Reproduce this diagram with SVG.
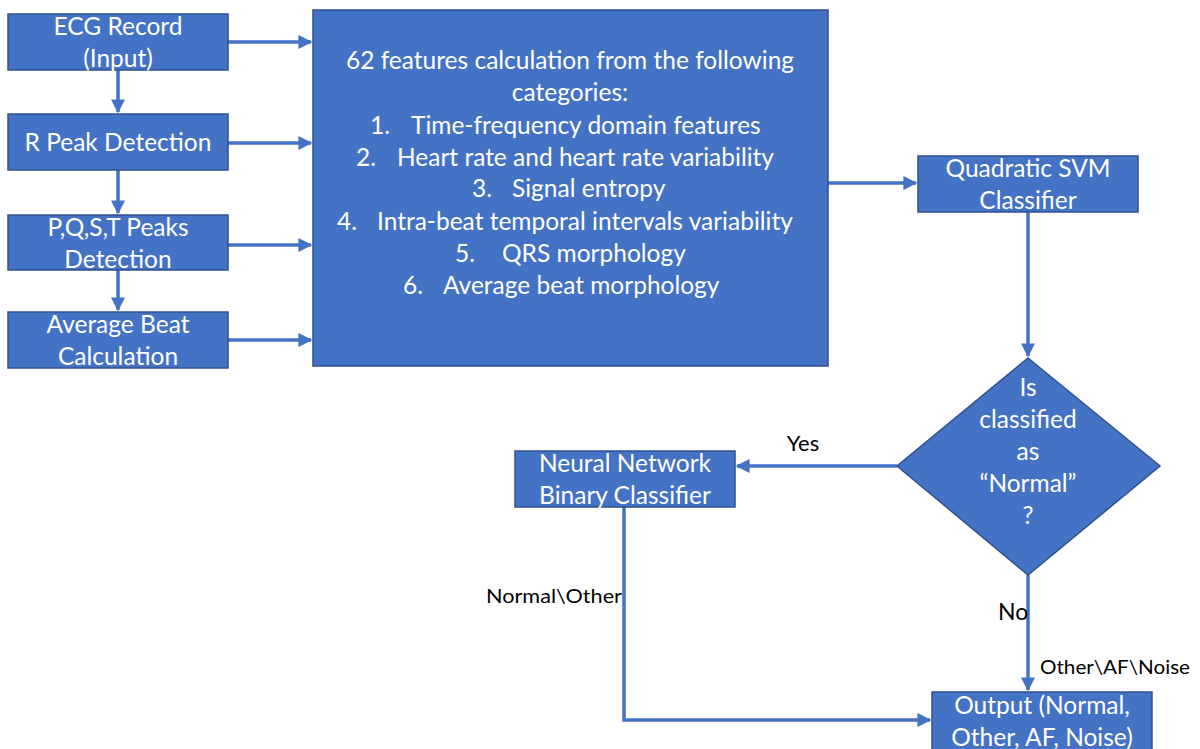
<svg xmlns="http://www.w3.org/2000/svg" width="1200" height="749" viewBox="0 0 1200 749">
<defs>
<marker id="ah" viewBox="0 0 10 10" refX="9" refY="5" markerWidth="4" markerHeight="4" markerUnits="strokeWidth" orient="auto">
<path d="M0,0 L10,5 L0,10 z" fill="#4472C4"/>
</marker>
<style>
.box{fill:#4472C4;stroke:#2F528F;stroke-width:1.5}
.t{font-family:Lato,"Open Sans","Liberation Sans",sans-serif;font-size:24.5px;fill:#ffffff;text-anchor:middle}
.ls{font-family:Lato,"Open Sans","Liberation Sans",sans-serif;font-size:24.5px;fill:#ffffff}
.c{fill:none;stroke:#4472C4;stroke-width:3.5}
.lb{font-family:Lato,"Open Sans","Liberation Sans",sans-serif;fill:#000000}
</style>
</defs>
<rect width="1200" height="749" fill="#ffffff"/>
<g id="connectors">
<line class="c" x1="118" y1="70" x2="118" y2="112" marker-end="url(#ah)"/>
<line class="c" x1="118" y1="170" x2="118" y2="213" marker-end="url(#ah)"/>
<line class="c" x1="118" y1="270" x2="118" y2="310" marker-end="url(#ah)"/>
<line class="c" x1="228" y1="42" x2="311" y2="42" marker-end="url(#ah)"/>
<line class="c" x1="228" y1="143" x2="311" y2="143" marker-end="url(#ah)"/>
<line class="c" x1="228" y1="245" x2="311" y2="245" marker-end="url(#ah)"/>
<line class="c" x1="228" y1="340" x2="311" y2="340" marker-end="url(#ah)"/>
<line class="c" x1="828" y1="183" x2="916" y2="183" marker-end="url(#ah)"/>
<line class="c" x1="1028" y1="212" x2="1028" y2="356" marker-end="url(#ah)"/>
<line class="c" x1="897" y1="466" x2="737" y2="466" marker-end="url(#ah)"/>
<polyline class="c" points="624,507 624,720 930,720" marker-end="url(#ah)"/>
<line class="c" x1="1028" y1="575" x2="1028" y2="690" marker-end="url(#ah)"/>
<text class="lb" x="803" y="451" font-size="22" text-anchor="middle">Yes</text>
<text class="lb" x="486" y="603" font-size="20" textLength="136" lengthAdjust="spacingAndGlyphs">Normal\Other</text>
<text class="lb" x="998" y="620" font-size="23">No</text>
<text class="lb" x="1040" y="674" font-size="20" textLength="150" lengthAdjust="spacingAndGlyphs">Other\AF\Noise</text>
</g>
<g id="ecg">
<rect class="box" x="8" y="14" width="220" height="56"/>
<text class="t" x="118" y="35">ECG Record</text>
<text class="t" x="118" y="67">(Input)</text>
</g>
<g id="rpeak">
<rect class="box" x="8" y="114" width="220" height="56"/>
<text class="t" x="118" y="151">R Peak Detection</text>
</g>
<g id="pqst">
<rect class="box" x="8" y="215" width="220" height="55"/>
<text class="t" x="118" y="236">P,Q,S,T Peaks</text>
<text class="t" x="118" y="268">Detection</text>
</g>
<g id="avgbeat">
<rect class="box" x="8" y="312" width="220" height="56"/>
<text class="t" x="118" y="333">Average Beat</text>
<text class="t" x="118" y="365">Calculation</text>
</g>
<g id="features">
<rect class="box" x="313" y="10" width="515" height="356"/>
<text class="t" x="570" y="69">62 features calculation from the following</text>
<text class="t" x="570" y="101">categories:</text>
<text class="ls" x="370" y="134">1.</text><text class="ls" x="411" y="134">Time-frequency domain features</text>
<text class="ls" x="356" y="166">2.</text><text class="ls" x="397" y="166">Heart rate and heart rate variability</text>
<text class="ls" x="472" y="197">3.</text><text class="ls" x="512" y="197">Signal entropy</text>
<text class="ls" x="337" y="230">4.</text><text class="ls" x="377" y="230">Intra-beat temporal intervals variability</text>
<text class="ls" x="455" y="262">5.</text><text class="ls" x="502" y="262">QRS morphology</text>
<text class="ls" x="403" y="294">6.</text><text class="ls" x="443" y="294">Average beat morphology</text>
</g>
<g id="svm">
<rect class="box" x="918" y="156" width="220" height="56"/>
<text class="t" x="1028" y="177">Quadratic SVM</text>
<text class="t" x="1028" y="209">Classifier</text>
</g>
<g id="decision">
<polygon class="box" points="1028,358 1160,466 1028,575 897,466"/>
<text class="t" x="1028" y="396">Is</text>
<text class="t" x="1028" y="428">classified</text>
<text class="t" x="1028" y="460">as</text>
<text class="t" x="1028" y="492">“Normal”</text>
<text class="t" x="1028" y="524">?</text>
</g>
<g id="nn">
<rect class="box" x="515" y="451" width="220" height="56"/>
<text class="t" x="625" y="472">Neural Network</text>
<text class="t" x="625" y="504">Binary Classifier</text>
</g>
<g id="output">
<rect class="box" x="932" y="692" width="220" height="60"/>
<text class="t" x="1042" y="714">Output (Normal,</text>
<text class="t" x="1042" y="746">Other, AF, Noise)</text>
</g>
</svg>
